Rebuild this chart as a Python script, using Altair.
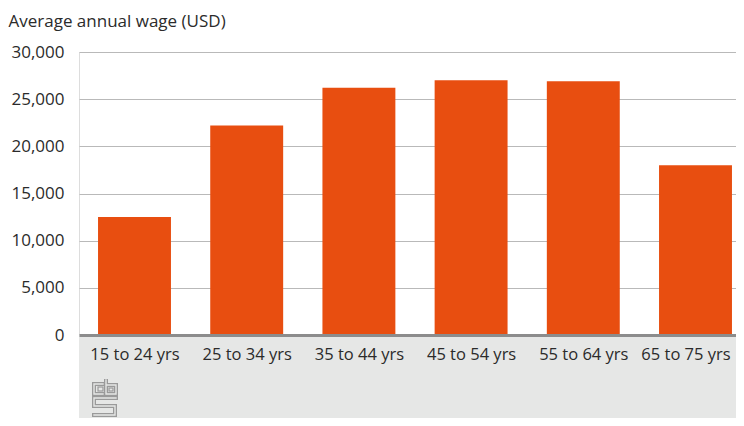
import base64
import json
import altair as alt
import pandas as pd

categories = ["15 to 24 yrs", "25 to 34 yrs", "35 to 44 yrs", "45 to 54 yrs", "55 to 64 yrs", "65 to 75 yrs"]
wages = [12500, 22200, 26200, 27000, 26900, 18000]
y_ticks = [0, 5000, 10000, 15000, 20000, 25000, 30000]

df = pd.DataFrame({"idx": list(range(len(categories))), "age": categories, "wage": wages})

FONT = "Open Sans"
W, H = 657, 283
BOTTOM = 83
STEP = 112.2
x_lo = -55.5 / STEP
x_hi = x_lo + W / STEP

logo_svg = (
    '<svg xmlns="http://www.w3.org/2000/svg" width="26" height="38" viewBox="0 0 26 38">'
    '<g fill="none" stroke-linejoin="miter" stroke-linecap="square">'
    '<path d="M11,5 H2 V15 H11 M14,1 V15 H24 V6 H14 M24,19 H2 V27 H23 V36 H2" stroke="#9a9a9a" stroke-width="4"/>'
    '<path d="M11,5 H2 V15 H11 M14,1 V15 H24 V6 H14 M24,19 H2 V27 H23 V36 H2" stroke="#e6e7e6" stroke-width="1.4"/>'
    '<rect x="6" y="8" width="5" height="4" stroke="#9a9a9a" stroke-width="1.2"/>'
    '<rect x="17" y="9" width="4" height="3" stroke="#9a9a9a" stroke-width="1.2"/>'
    '</g></svg>'
)
logo_url = "data:image/svg+xml;base64," + base64.b64encode(logo_svg.encode()).decode()

last = len(categories) - 1
label_expr = json.dumps(categories) + "[round(datum.value)]"
x_scale = alt.Scale(domain=[x_lo, x_hi], nice=False, zero=False, padding=0)

bg = alt.Chart(pd.DataFrame({"k": [0]})).mark_rect(color="#e6e7e6").encode(
    x=alt.value(0), x2=alt.value(W), y=alt.value(H), y2=alt.value(H + BOTTOM)
)

bars = alt.Chart(df).transform_calculate(
    x0="datum.idx - 0.325", x1="datum.idx + 0.325"
).mark_bar(color="#e84e10", clip=False, orient="vertical").encode(
    x=alt.X(
        "x0:Q",
        scale=x_scale,
        axis=alt.Axis(
            values=list(range(len(categories))), labelExpr=label_expr,
            title=None, labelAngle=0, labelFont=FONT, labelFontSize=16.5, labelColor="#2b2b2b",
            labelPadding=11, ticks=False, grid=False, domainColor="#8c8c8c", domainWidth=3, zindex=1,
            labelOverlap=False, labelBound=False, labelFlush=False,
            labelOffset={"condition": {"test": f"datum.value == {last}", "value": -10}, "value": 0},
        ),
    ),
    x2="x1:Q",
    y=alt.Y(
        "wage:Q",
        scale=alt.Scale(domain=[0, 30000]),
        axis=alt.Axis(
            values=y_ticks, format=",d", title="Average annual wage (USD)", titleAngle=0,
            titleAlign="left", titleBaseline="alphabetic", titleX=-71, titleY=-26,
            titleFont=FONT, titleFontSize=17, titleFontWeight="normal", titleColor="#2b2b2b",
            labelFont=FONT, labelFontSize=17, labelColor="#2b2b2b", labelPadding=15,
            ticks=False, domain=False, gridColor="#b9b9b9", gridWidth=1,
        ),
    ),
    y2=alt.datum(0),
)

logo = alt.Chart(pd.DataFrame({"u": [logo_url]})).mark_image(
    align="left", baseline="top", width=26, height=38
).encode(x=alt.value(13), y=alt.value(H + 44), url="u:N")

chart = alt.layer(bg, bars, logo).properties(
    width=W, height=H,
    autosize=alt.AutoSizeParams(type="none"),
    padding={"left": 71, "top": 44, "right": 0, "bottom": BOTTOM},
).configure_view(stroke=None).configure(background="white")

chart.save("out.html", embed_options={"renderer": "svg", "actions": False})
